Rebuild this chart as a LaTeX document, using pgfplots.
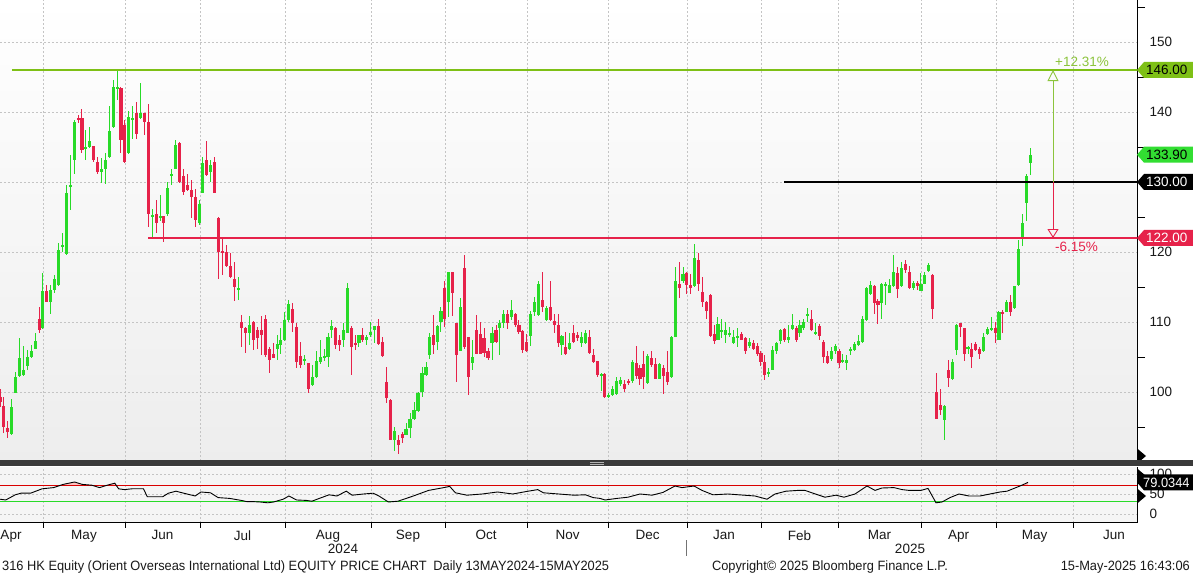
\documentclass[border=0pt]{standalone}
\usepackage{fontspec}
\setmainfont{Liberation Sans}
\newfontfamily\footfont[FakeStretch=0.95]{Liberation Sans}
\usepackage{pgfplots}
\pgfplotsset{compat=1.18}
\usepackage{pgfplotstable}
\usetikzlibrary{arrows.meta}

\definecolor{cgreen}{RGB}{40,218,40}
\definecolor{cred}{RGB}{230,34,74}
\definecolor{lvlgreen}{RGB}{126,192,22}
\definecolor{pctgreen}{RGB}{140,196,60}
\definecolor{gridc}{RGB}{196,196,196}
\definecolor{txt}{RGB}{25,25,25}
\definecolor{sep}{RGB}{58,58,58}
\definecolor{tagg}{RGB}{50,222,50}

\newcommand{\lf}{\fontsize{13.5}{15}\selectfont}
\newcommand{\ff}{\footfont\fontsize{13.5}{15}\selectfont}

% green (up) candles: x o h l c
\pgfplotstableread{
x o h l c
11.3 94.0 99.0 93.9 97.9
15.3 99.9 102.9 99.8 102.2
19.3 102.3 107.7 102.2 104.8
23.3 102.4 106.6 102.3 103.2
27.3 103.7 106.0 103.1 105.0
31.3 105.0 106.7 104.9 105.8
35.3 106.2 108.5 106.1 107.3
42.7 109.1 117.0 109.0 114.4
50.7 112.9 115.3 111.2 114.6
54.7 114.6 116.7 114.1 116.2
58.7 115.3 121.3 115.2 120.3
62.7 120.8 122.7 120.0 121.0
66.7 119.7 129.6 119.6 128.4
70.7 129.3 133.9 126.0 129.6
74.7 133.1 138.9 131.2 138.6
85.3 134.8 137.4 133.1 135.0
89.3 135.0 137.9 134.9 135.8
101.3 131.5 133.4 129.8 131.9
105.3 131.8 134.1 129.7 133.1
109.3 133.6 140.8 133.5 137.3
113.3 137.9 144.6 137.7 143.6
117.3 143.4 146.1 141.7 143.6
128.7 134.1 140.1 134.0 139.3
132.7 138.9 140.8 136.2 139.1
140.7 139.1 144.2 139.0 139.8
152.7 125.0 126.2 121.8 125.3
160.3 125.0 128.1 124.5 125.1
167.5 125.4 130.0 125.1 129.1
171.3 130.9 131.9 129.6 131.1
175.3 131.9 136.0 131.8 135.3
199.3 124.1 127.4 123.9 126.9
202.7 128.5 133.6 128.4 132.7
210.3 131.5 133.1 130.0 132.4
238.3 114.6 116.4 113.1 114.8
249.7 108.4 110.8 106.7 109.6
277.3 106.2 108.2 104.6 106.8
280.7 106.7 109.1 105.5 107.4
284.7 107.4 111.5 107.3 110.3
288.7 110.3 113.2 110.0 112.6
304.7 104.5 105.3 103.9 104.7
312.7 101.0 103.9 100.8 102.1
316.7 102.1 105.8 102.0 104.5
320.3 104.3 107.5 104.0 105.0
324.3 104.8 106.2 104.5 105.1
328.0 105.0 108.4 103.6 107.8
331.7 108.9 110.3 107.7 109.4
343.3 107.4 109.8 106.5 108.9
347.3 108.5 115.6 108.4 114.8
358.9 107.0 108.2 106.5 108.1
366.7 107.4 108.1 106.7 107.9
370.7 108.2 110.0 107.9 108.6
374.7 108.8 109.5 107.0 109.4
394.7 93.2 95.0 91.6 94.5
406.0 93.9 95.6 93.8 94.7
410.0 94.8 97.0 93.4 96.2
414.0 96.2 98.6 96.0 97.4
418.0 97.3 100.0 97.2 99.8
422.0 100.0 103.6 99.3 102.7
426.0 102.4 104.3 102.3 103.6
429.5 105.3 108.5 104.7 107.9
437.3 107.2 109.6 106.0 109.4
440.9 110.0 112.2 108.6 111.6
448.7 112.9 117.2 110.7 117.1
460.7 105.9 113.5 105.8 112.1
472.7 104.1 107.4 103.1 105.0
492.0 107.0 109.3 104.6 108.5
499.5 109.1 110.3 105.3 109.8
503.3 109.8 111.7 109.1 111.2
511.3 110.7 113.2 110.3 111.7
530.3 108.0 111.6 106.6 111.2
534.3 111.5 113.6 110.8 112.9
538.3 111.0 115.8 110.9 115.5
546.3 110.3 112.3 110.1 112.0
561.9 106.7 108.2 105.3 108.0
569.7 106.2 108.5 106.0 107.0
581.7 107.0 108.6 106.5 107.9
585.7 107.0 108.8 106.9 108.4
601.1 102.4 102.7 100.1 102.6
608.3 99.3 99.8 99.2 99.6
612.3 99.6 100.8 99.5 100.5
616.3 99.7 102.2 99.6 101.6
620.3 101.1 102.1 100.8 101.7
632.3 101.6 104.6 101.3 104.3
647.7 101.3 105.4 101.1 105.1
659.7 101.9 104.2 101.8 104.0
671.7 102.1 108.0 102.0 107.9
675.7 107.9 117.8 107.8 115.8
683.0 115.8 117.9 115.6 116.9
694.3 115.1 121.1 115.0 119.2
717.9 107.5 110.7 107.4 109.7
721.7 108.6 110.5 107.7 108.9
725.7 108.1 110.0 107.0 108.9
729.7 108.2 109.3 107.8 108.4
733.7 107.0 108.9 106.9 107.8
737.7 107.8 109.2 106.5 108.0
749.7 106.6 107.7 106.3 107.2
768.3 102.6 103.5 102.2 102.9
772.3 103.2 106.6 103.1 106.0
776.3 105.9 107.2 105.5 107.0
780.5 107.3 109.0 106.9 108.9
788.3 107.5 109.6 107.0 107.8
792.3 109.0 111.2 108.9 109.6
799.9 108.4 110.3 107.9 109.6
803.7 109.1 110.5 108.9 110.0
807.7 110.9 112.0 110.0 111.1
815.7 108.4 109.9 108.1 108.6
831.7 104.7 106.5 104.5 105.9
835.5 105.8 106.9 105.5 106.6
842.7 104.4 105.5 104.2 104.6
846.7 104.1 105.3 103.2 104.6
850.7 105.8 106.5 105.3 106.1
854.7 106.0 107.2 105.9 106.9
858.7 106.7 108.1 106.6 107.3
862.7 107.2 110.8 107.0 110.5
866.7 110.3 115.0 110.1 114.8
870.7 114.0 115.8 113.9 115.3
881.5 112.7 115.6 110.4 115.4
885.3 115.2 115.7 112.4 115.4
889.3 114.2 116.2 114.1 115.3
893.3 115.1 119.6 115.0 117.2
901.3 115.1 118.6 115.0 117.7
913.3 114.8 115.9 114.6 115.6
920.9 114.5 117.0 114.4 115.5
924.7 115.5 117.2 115.4 116.7
928.7 117.3 118.4 117.2 118.1
944.7 96.0 98.2 93.2 98.0
952.7 101.8 104.7 101.7 104.3
956.7 106.0 109.7 105.3 109.6
968.0 106.1 106.6 105.5 106.4
983.3 105.8 108.5 105.7 107.8
987.3 108.3 109.3 108.2 109.0
991.3 108.8 110.7 108.7 109.1
998.9 107.5 111.6 107.4 111.5
1006.7 111.5 113.2 111.4 112.8
1014.7 112.0 115.2 111.9 115.1
1018.7 115.3 121.7 115.2 120.5
1022.7 122.0 125.5 120.9 124.1
1026.7 127.0 131.2 124.5 130.9
1030.7 132.7 134.8 131.0 133.9
}\greenc

% red (down) candles: x o h l c
\pgfplotstableread{
x o h l c
0.5 99.3 100.5 97.9 98.6
3.7 98.0 99.3 94.1 95.0
7.3 94.8 95.8 93.4 94.3
39.3 110.5 112.2 108.4 108.9
46.7 114.4 115.3 112.8 112.9
78.7 139.1 139.6 138.5 138.9
81.9 139.1 140.4 134.1 134.6
93.3 135.1 135.2 132.9 133.1
97.3 132.9 133.6 131.2 131.5
120.9 143.5 143.6 134.1 136.0
124.7 138.1 138.9 132.7 132.8
136.7 139.8 141.5 136.1 136.9
144.7 139.8 139.9 136.7 138.6
148.7 138.6 141.2 123.6 125.5
156.7 125.5 127.5 122.7 124.1
163.8 125.1 125.2 121.5 124.1
179.3 135.6 135.7 129.8 130.0
183.3 130.8 131.9 128.1 128.6
187.3 129.6 131.1 128.7 128.9
191.3 128.9 130.3 124.8 127.9
195.3 127.9 129.0 123.6 124.6
206.5 133.1 135.9 130.8 131.0
214.3 132.8 133.6 128.4 128.5
218.3 124.8 125.0 116.2 120.0
222.3 120.2 122.2 116.7 119.9
226.3 120.0 121.0 117.8 118.0
230.3 118.0 119.8 116.3 116.4
234.3 116.1 118.6 113.0 115.0
241.7 110.0 111.0 106.5 109.1
245.7 109.1 109.3 105.6 108.4
253.7 110.0 110.1 106.0 107.4
257.7 108.8 109.3 106.1 107.7
261.7 108.8 110.9 105.3 108.1
265.3 110.5 111.0 105.0 105.3
269.3 106.2 106.4 102.7 104.6
273.3 105.4 107.0 104.8 104.9
292.7 111.8 112.7 108.6 109.8
296.7 109.3 109.8 103.4 104.3
300.7 105.1 107.2 103.4 103.9
308.7 104.1 104.2 99.8 100.4
335.5 109.1 109.3 106.2 106.7
339.3 107.5 108.1 105.8 106.7
351.3 109.2 109.4 102.4 106.5
355.3 107.0 108.2 106.0 106.7
362.7 108.2 109.1 107.2 107.5
378.7 109.4 110.4 106.7 106.9
382.7 107.1 107.9 105.0 105.1
386.7 101.5 103.6 98.5 99.1
390.7 98.9 99.0 93.1 93.2
398.7 93.1 93.9 91.2 92.4
402.3 94.0 94.3 92.7 93.4
433.3 108.2 111.0 105.5 106.7
444.7 114.8 115.9 109.3 110.5
452.7 117.1 117.2 110.9 114.2
456.7 109.8 109.9 101.5 105.3
464.7 117.7 119.6 106.2 106.5
468.7 107.8 107.9 99.6 102.1
476.7 108.9 111.0 105.4 105.5
480.3 108.3 110.0 105.4 105.5
484.0 107.7 109.1 105.0 105.6
488.0 105.8 106.3 104.6 104.8
496.0 108.9 109.6 107.0 107.2
507.3 111.1 111.7 109.0 109.9
515.3 111.1 111.3 109.3 109.6
518.9 109.6 110.3 108.3 108.6
522.6 108.7 108.9 105.6 106.0
526.3 107.2 108.3 105.7 105.9
542.3 113.2 117.2 111.5 112.1
550.3 112.1 115.8 110.1 110.3
554.3 110.2 111.2 108.4 109.6
558.3 109.6 111.2 106.4 107.0
565.7 106.4 108.6 105.3 105.4
573.7 108.5 109.6 107.0 107.2
577.7 108.1 108.6 107.3 107.7
589.7 107.8 108.8 105.4 105.6
593.7 105.3 106.2 104.2 104.3
597.7 104.4 104.5 102.2 102.4
604.5 102.6 102.7 99.1 99.3
624.3 101.2 101.7 100.0 100.4
628.3 101.6 101.9 101.0 101.3
636.3 104.2 106.6 101.8 102.3
639.9 103.5 103.8 101.0 101.9
643.7 104.0 105.8 100.5 102.2
651.7 104.9 105.8 103.6 103.9
655.7 104.0 104.8 101.8 101.9
663.7 103.5 103.8 99.7 102.3
667.7 102.9 105.8 101.0 101.5
679.1 115.5 118.6 113.4 114.8
686.5 117.0 117.2 114.0 115.3
690.3 115.3 116.9 114.0 114.8
698.3 118.9 119.9 114.5 115.5
702.3 114.3 116.5 112.2 112.8
706.3 112.8 113.0 110.5 111.6
710.3 113.9 114.0 107.8 108.0
714.3 108.3 109.6 106.9 107.3
741.7 108.3 108.6 107.4 107.5
745.7 107.7 107.8 105.5 105.9
753.7 107.0 107.5 106.0 106.2
757.7 106.6 107.0 105.1 105.4
760.9 105.6 105.9 103.7 104.3
764.5 104.3 105.3 101.7 102.4
784.3 109.0 109.1 107.2 107.5
796.3 109.1 109.4 107.2 107.4
811.7 110.4 111.7 108.7 108.8
819.7 109.5 109.7 107.5 108.0
823.7 107.2 107.4 104.1 105.0
827.7 105.1 105.8 104.0 104.1
839.0 105.9 106.2 103.4 104.2
874.5 115.1 115.3 111.2 112.7
877.9 113.0 113.3 109.7 112.5
897.3 117.0 117.9 113.5 114.7
905.3 118.3 118.9 117.0 117.4
909.3 117.2 118.0 114.7 114.8
917.3 115.6 115.8 114.6 115.1
932.7 116.7 116.8 110.5 111.8
936.7 100.0 102.7 96.1 96.2
940.7 98.1 100.5 96.7 97.5
948.7 103.1 104.6 100.7 102.0
960.5 109.8 109.9 107.9 109.3
964.3 109.1 109.2 104.5 105.5
971.8 106.1 107.0 103.4 105.0
975.5 106.9 107.2 105.9 106.0
979.3 106.1 106.5 104.7 105.5
995.3 109.1 110.0 107.0 108.5
1002.7 111.5 111.7 108.5 111.2
1010.7 112.8 113.9 110.8 111.5
}\redc

% RSI (14) values
\pgfplotstableread{
x r
0 37
5.7 35
15.3 48
21 52
30.6 52
42.1 63
53.6 66
63.1 74
74.6 80
82.3 74
91.8 72
99.5 66
107.2 72
114.8 77
118.6 63
124.4 61
132 63
143.5 63
147.3 43
162.6 43
168.4 52
176 57
183.7 52
195.2 45
200.9 55
210.5 53
218.1 41
229.6 39
241.1 34
246.8 31
252.6 31
260.2 30
267.9 28
273.6 30
283.2 37
288.9 45
296.6 35
306.2 34
311.9 32
321.5 41
329.1 48
336.8 45
346.3 57
352.1 47
363.6 50
373.1 52
378.9 45
388.4 30
398 32
413.3 45
428.6 59
443.9 66
449.7 69
455.4 53
466.9 47
482.2 50
497.5 55
512.8 50
528.1 57
537.7 61
543.4 53
558.7 50
574 47
585.5 48
593.2 41
600 39
605 35
617 39
628 42
640 50
652 47
663 54
675 70
682 66
694 70
702 59
713 48
728 50
744 47
755 45
767 37
775 50
786 57
798 59
805 59
813 52
825 42
836 47
844 42
855 50
867 70
875 59
882 65
894 66
902 61
909 59
921 59
928 64
936 28
942 30
950 41
959 50
969 45
980 45
990 50
1000 55
1007 57
1013 63
1021 71
1028 79.03
}\rsidata

\newcommand{\ptag}[4]{%
  \fill[#2] (#1) -- ++(7,8) -- ++(60,0) -- ++(0,-16) -- ++(-60,0) -- cycle;
  \node[anchor=west, inner sep=0pt, text=#3, font=\lf] at ([xshift=9pt]#1) {#4};}

\begin{document}
\begin{tikzpicture}[x=1pt,y=1pt]
\fill[white] (0,0) rectangle (1193,575);

% ---------------- main price panel ----------------
\begin{axis}[name=main, at={(0pt,575pt)}, anchor=north west, scale only axis,
  width=1137pt, height=461pt, xmin=0, xmax=1137, ymin=90.143, ymax=156,
  clip mode=individual,
  axis line style={draw=none},
  axis background/.style={top color=white, bottom color=black!7},
  xtick={43,125,200,285,371,445,527,608,687,761,838,921,996,1073},
  xticklabels={}, xtick style={draw=none}, xmajorgrids,
  ytick={100,110,120,130,140,150}, yticklabels={100,110,120,,140,150},
  minor ytick={95,105,115,125,135,145,155},
  ymajorgrids, ytick pos=right, yticklabel pos=right,
  tick align=outside, major tick length=9pt, minor tick length=8pt,
  every major tick/.append style={draw=none},
  every minor tick/.append style={black, line width=0.9pt},
  major grid style={gridc, dash pattern=on 2pt off 2pt, line width=0.8pt},
  yticklabel style={font=\lf, text=txt},
  /pgf/number format/assume math mode=true,
]
% wicks
\addplot[draw=none, mark=none, forget plot, error bars/.cd, y dir=both, y explicit, error mark=none,
  error bar style={draw=cgreen, line width=1pt}]
  table[x=x, y expr={(\thisrow{h}+\thisrow{l})/2}, y error expr={(\thisrow{h}-\thisrow{l})/2}] {\greenc};
\addplot[draw=none, mark=none, forget plot, error bars/.cd, y dir=both, y explicit, error mark=none,
  error bar style={draw=cred, line width=1pt}]
  table[x=x, y expr={(\thisrow{h}+\thisrow{l})/2}, y error expr={(\thisrow{h}-\thisrow{l})/2}] {\redc};
% bodies
\addplot[draw=none, mark=none, forget plot, error bars/.cd, y dir=both, y explicit, error mark=none,
  error bar style={draw=cgreen, line width=3.2pt}]
  table[x=x, y expr={(\thisrow{o}+\thisrow{c})/2}, y error expr={max(abs(\thisrow{c}-\thisrow{o})/2,0.12)}] {\greenc};
\addplot[draw=none, mark=none, forget plot, error bars/.cd, y dir=both, y explicit, error mark=none,
  error bar style={draw=cred, line width=3.2pt}]
  table[x=x, y expr={(\thisrow{o}+\thisrow{c})/2}, y error expr={max(abs(\thisrow{c}-\thisrow{o})/2,0.12)}] {\redc};
% level lines
\addplot[lvlgreen, line width=2.3pt, forget plot] coordinates {(12,146) (1137,146)};
\addplot[cred, line width=2.3pt, forget plot] coordinates {(148,122) (1137,122)};
\addplot[black, line width=2.3pt, forget plot] coordinates {(784,130) (1137,130)};
% range arrows
\draw[pctgreen, line width=0.9pt, -{Triangle[open, length=11pt, width=11pt]}] (axis cs:1053,130) -- (axis cs:1053,146);
\draw[cred, line width=0.9pt, -{Triangle[open, length=9pt, width=11pt]}] (axis cs:1053,130) -- (axis cs:1053,122);
\node[anchor=base west, inner sep=0pt, text=pctgreen, font=\lf] at (axis cs:1055,146.45) {+12.31\%};
\node[anchor=base west, inner sep=0pt, text=cred, font=\lf] at (axis cs:1055,120.1) {-6.15\%};
% right axis
\draw[black, line width=1pt] (axis cs:1137,90.143) -- (axis cs:1137,156);
\pgfplotsinvokeforeach{100,110,120,130,140,150}{
  \fill[black] (axis cs:1137,#1) ++(0,3.5) -- ++(9,-3.5) -- ++(-9,-3.5) -- cycle;}
\coordinate (T146) at (axis cs:1137,146);
\coordinate (T133) at (axis cs:1137,133.9);
\coordinate (T130) at (axis cs:1137,130);
\coordinate (T122) at (axis cs:1137,122);
\end{axis}

% ---------------- RSI panel ----------------
\begin{axis}[name=rsi, at={(0pt,108pt)}, anchor=north west, scale only axis,
  width=1137pt, height=56pt, xmin=0, xmax=1137, ymin=-22.5, ymax=117.5,
  clip mode=individual,
  axis line style={draw=none},
  axis background/.style={fill=black!4},
  xtick={11,84,162.5,242.5,328,408,486,567.5,647.5,724,799.5,879.5,958.5,1034.5,1114},
  xticklabels={Apr,May,Jun,Jul,Aug,Sep,Oct,Nov,Dec,Jan,Feb,Mar,Apr,May,Jun},
  minor xtick={43,125,200,285,371,445,527,608,687,761,838,921,996,1073},
  xminorgrids, xtick pos=left,
  ytick={0,50,100}, ymajorgrids, ytick pos=right, yticklabel pos=right,
  tick align=outside, major tick length=9pt, minor tick length=5pt,
  every major tick/.append style={draw=none},
  every minor tick/.append style={black, line width=0.9pt},
  major grid style={gridc, dash pattern=on 2pt off 2pt, line width=0.8pt},
  minor grid style={gridc, dash pattern=on 2pt off 2pt, line width=0.8pt},
  xticklabel style={font=\lf, text=txt, yshift=5pt},
  yticklabel style={font=\lf, text=txt},
  /pgf/number format/assume math mode=true,
]
% shaded overbought / oversold zones (from the RSI points above 70 / below 30)
\addplot[fill=red!25, draw=none, forget plot] coordinates {(58.4,70) (63.1,74) (74.6,80) (82.3,74) (91.8,72) (94.4,70)} -- cycle;
\addplot[fill=red!25, draw=none, forget plot] coordinates {(104.6,70) (107.2,72) (114.8,77) (116.7,70)} -- cycle;
\addplot[fill=red!25, draw=none, forget plot] coordinates {(1020,70) (1021,71) (1028,79.03) (1028,70)} -- cycle;
\addplot[fill=green!25, draw=none, forget plot] coordinates {(260.2,30) (267.9,28) (273.6,30)} -- cycle;
\addplot[fill=green!25, draw=none, forget plot] coordinates {(935.6,30) (936,28) (942,30)} -- cycle;
\addplot[draw=red!85!black, line width=1pt, forget plot] coordinates {(0,70) (1137,70)};
\addplot[draw=cgreen, line width=1pt, forget plot] coordinates {(0,30) (1137,30)};
\addplot[black, line width=0.9pt, forget plot] table[x=x, y=r] {\rsidata};
\draw[black, line width=1pt] (axis cs:1137,-22.5) -- (axis cs:1137,117.5);
\draw[black, line width=1pt] (axis cs:0,-22.5) -- (axis cs:1137,-22.5);
\pgfplotsinvokeforeach{0,50,100}{
  \fill[black] (axis cs:1137,#1) ++(0,3.5) -- ++(9,-3.5) -- ++(-9,-3.5) -- cycle;}
\coordinate (TR) at (axis cs:1137,79.0344);
\end{axis}

% separator bar
\fill[sep] (0,109) rectangle (1193,115);
\draw[black!30, line width=0.6pt] (590,113) -- (604,113);
\draw[black!30, line width=0.6pt] (590,111) -- (604,111);

% value tags
\ptag{T146}{lvlgreen}{black}{146.00}
\ptag{T133}{tagg}{black}{133.90}
\ptag{T130}{black}{white}{130.00}
\ptag{T122}{cred}{white}{122.00}
\fill[black] (TR) -- ++(7,8) -- ++(60,0) -- ++(0,-16) -- ++(-60,0) -- cycle;
\node[anchor=west, inner sep=0pt, text=white, font=\ff] at ([xshift=6pt]TR) {79.0344};

% bottom texts
\node[anchor=base, inner sep=0pt, text=txt, font=\lf] at (343,21) {2024};
\node[anchor=base, inner sep=0pt, text=txt, font=\lf] at (910,21) {2025};
\draw[black!55, line width=0.8pt] (686,19) -- (686,35);
\node[anchor=base west, inner sep=0pt, text=txt, font=\ff] at (2,4) {316 HK Equity (Orient Overseas International Ltd) EQUITY PRICE CHART\enspace Daily 13MAY2024-15MAY2025};
\node[anchor=base, inner sep=0pt, text=txt, font=\ff] at (830,4) {Copyright© 2025 Bloomberg Finance L.P.};
\node[anchor=base east, inner sep=0pt, text=txt, font=\ff] at (1190,4) {15-May-2025 16:43:06};

\pgfresetboundingbox
\path[use as bounding box] (0,0) rectangle (1193,575);
\end{tikzpicture}
\end{document}
